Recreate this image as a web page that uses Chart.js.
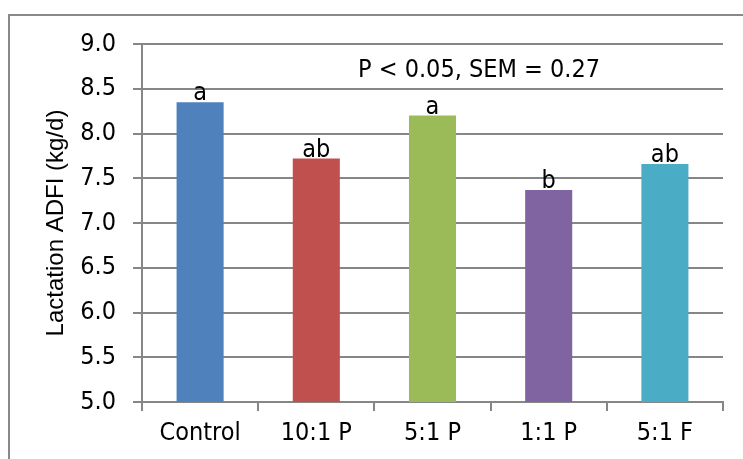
<!DOCTYPE html>
<html>
<head>
<meta charset="utf-8">
<script src="https://cdn.jsdelivr.net/npm/chart.js@4"></script>
<style>
  html, body { margin: 0; padding: 0; background: #fff; }
  #wrap { width: 743px; height: 459px; }
</style>
</head>
<body>
<div id="wrap"><canvas id="chart" width="743" height="459"></canvas></div>
<script>
const categories = ['Control', '10:1 P', '5:1 P', '1:1 P', '5:1 F'];
const adfi = [8.35, 7.72, 8.20, 7.37, 7.66];
const letters = ['a', 'ab', 'a', 'b', 'ab'];
const barColors = ['#4F81BD', '#C0504D', '#9BBB59', '#8064A2', '#4BACC6'];
const yTitle = 'Lactation ADFI (kg/d)';
const note = 'P < 0.05, SEM = 0.27';

const FONT = "'Liberation Sans', Arial, sans-serif";
const NARROW = "'Liberation Sans Narrow', 'DejaVu Sans Condensed', Arial, sans-serif";
const GRID = '#868686';

// outer frame + letters + note
const extras = {
  id: 'extras',
  beforeDraw(chart) {
    const c = chart.ctx;
    c.save();
    c.fillStyle = '#fff';
    c.fillRect(0, 0, chart.width, chart.height);
    c.strokeStyle = '#898989';
    c.lineWidth = 2;
    c.strokeRect(9, 15, 800, 500);
    c.restore();
  },
  afterDatasetsDraw(chart) {
    const c = chart.ctx;
    const meta = chart.getDatasetMeta(0);
    c.save();
    c.fillStyle = '#000';
    c.font = '25px ' + NARROW;
    c.textAlign = 'center';
    c.textBaseline = 'alphabetic';
    meta.data.forEach((bar, i) => {
      c.fillText(letters[i], bar.x, bar.y - 2);
    });
    c.fillText(note, 479, 77);
    c.restore();
  }
};

new Chart(document.getElementById('chart'), {
  type: 'bar',
  data: {
    labels: categories,
    datasets: [{
      data: adfi,
      backgroundColor: barColors,
      borderWidth: 0,
      barPercentage: 0.405,
      categoryPercentage: 1
    }]
  },
  options: {
    responsive: false,
    animation: false,
    layout: { padding: { left: 0, top: 44, right: 20, bottom: 0 } },
    plugins: {
      legend: { display: false },
      tooltip: { enabled: false }
    },
    scales: {
      x: {
        offset: true,
        grid: {
          offset: true,
          drawOnChartArea: false,
          drawTicks: true,
          tickLength: 9,
          color: GRID,
          lineWidth: 2
        },
        border: { color: GRID, width: 2 },
        ticks: {
          color: '#000',
          font: { family: NARROW, size: 25 },
          padding: 7,
          maxRotation: 0
        },
        afterFit(scale) { scale.height = 57; }
      },
      y: {
        min: 5,
        max: 9,
        grid: {
          color: GRID,
          lineWidth: 2,
          tickLength: 9
        },
        border: { color: GRID, width: 2 },
        ticks: {
          stepSize: 0.5,
          color: '#000',
          font: { family: NARROW, size: 25 },
          padding: 17,
          callback: v => v.toFixed(1)
        },
        title: {
          display: true,
          text: yTitle,
          color: '#000',
          font: { family: FONT, size: 24 },
          padding: { top: 42, bottom: 0 }
        },
        afterFit(scale) { scale.width = 142; }
      }
    }
  },
  plugins: [extras]
});
</script>
</body>
</html>
